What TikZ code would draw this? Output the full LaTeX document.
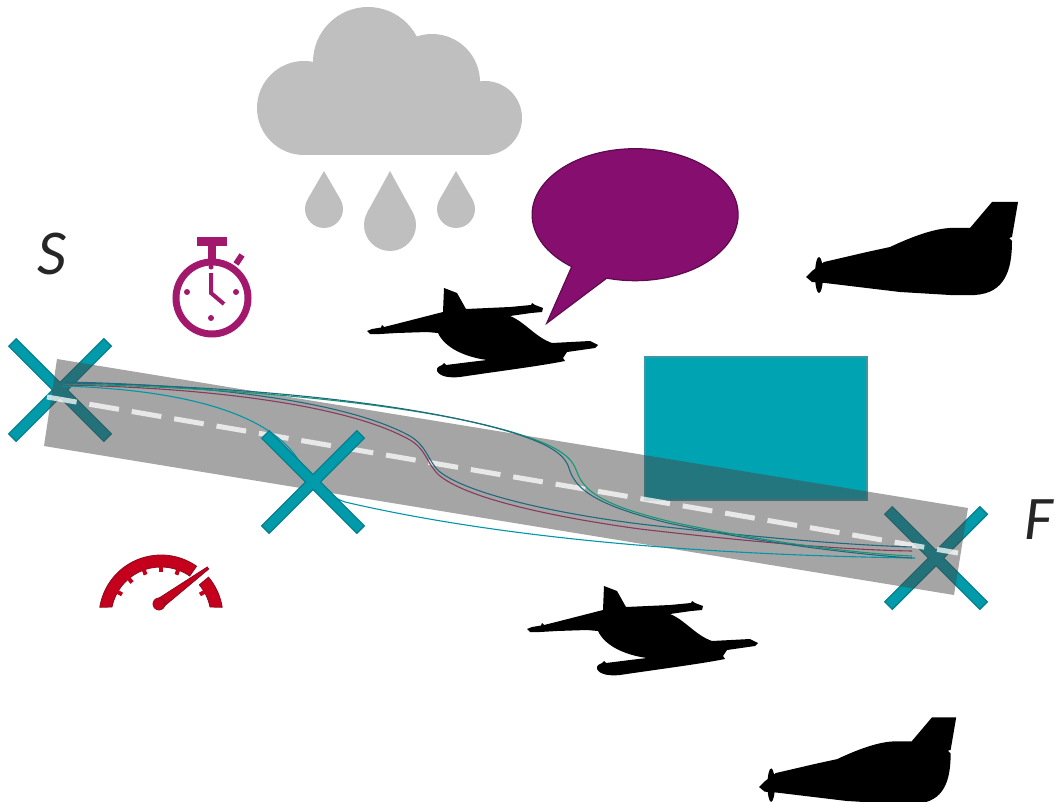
\documentclass[tikz,border=0pt]{standalone}
\usepackage{fontspec}
\setmainfont{Carlito}
\definecolor{xteal}{HTML}{009BAA}
\definecolor{xedge}{HTML}{0A7F8C}
\definecolor{boxteal}{HTML}{00A3B1}
\definecolor{cloudgray}{HTML}{BFBFBF}
\definecolor{bubble}{HTML}{850E6F}
\definecolor{bubbleedge}{HTML}{5E0A4F}
\definecolor{watch}{HTML}{A2186C}
\definecolor{gauge}{HTML}{C4001C}
\definecolor{gaugeedge}{HTML}{8A0A22}
\definecolor{runway}{RGB}{72,72,72}
\definecolor{trkteal}{HTML}{0096A8}
\definecolor{trkdark}{HTML}{22687E}
\definecolor{trkmaroon}{HTML}{8A3A5C}
\definecolor{trkgreen}{HTML}{129A74}
\definecolor{labelgray}{HTML}{262626}
\tikzset{
  track/.style={line width=1.1pt},
  waypoint/.pic={
    \draw[xedge, line width=12pt] (-48,-48) -- (48,48);
    \draw[xedge, line width=12pt] (48,-48) -- (-48,48);
    \draw[xteal, line width=9pt, shorten <=1.5pt, shorten >=1.5pt] (-48,-48) -- (48,48);
    \draw[xteal, line width=9pt, shorten <=1.5pt, shorten >=1.5pt] (48,-48) -- (-48,48);
  },
  % top-down quadcopter-like silhouette
  fighter/.pic={
    \fill[black] (367,331) -- (372,329) -- (381,327.5) -- (382,325) -- (384,327) -- (400,323)
      -- (443,312) -- (444,288) -- (457,293) -- (466,309) -- (510,307) -- (531,305)
      -- (532,303) -- (535,305) -- (543,308) -- (542,312) -- (531,313) -- (510,316)
      .. controls (525,322) and (535,337) .. (552,343) -- (590,341) -- (598,345)
      -- (595,348) -- (567,352) -- (563,358) -- (565,361)
      .. controls (540,366) and (500,371) .. (460,377)
      .. controls (450,378) and (440,377) .. (437,371)
      .. controls (436,367) and (440,366) .. (442,365) -- (444,363) -- (446,365)
      -- (470,362) -- (487,360)
      .. controls (465,357) and (445,348) .. (438,333) -- (427,332) -- (397,333)
      -- (380,334) -- (370,334) -- cycle;
  },
  % side-view aircraft silhouette, origin at the spinner
  sideplane/.pic={
    \fill[black] (-1,0) -- (5,-6) -- (17,-15) -- (60,-25) -- (83,-30)
      .. controls (98,-37) and (123,-48) .. (143,-49) -- (163,-49) -- (185,-75)
      -- (211,-75) -- (205,-40) -- (202,-39) -- (205,-36)
      .. controls (205,-7) and (198,16) .. (168,18) -- (143,18) -- (93,15)
      -- (18,6) -- (5,5) -- cycle;
    \fill[black] (12,-2) ellipse [x radius=4, y radius=18];
  }
}
\begin{document}
\begin{tikzpicture}[x=1pt,y=-1pt]
\useasboundingbox (0,0) rectangle (1059,802);

% rain cloud
\fill[cloudgray] (304,108) circle (47pt);
\fill[cloudgray] (368,62) circle (55pt);
\fill[cloudgray] (432,82) circle (48pt);
\fill[cloudgray] (485,118) circle (37pt);
\fill[cloudgray] (304,100) rectangle (485,155);
% drops
\fill[cloudgray] (324,171) -- (340.5,199.5) -- (307.5,199.5) -- cycle;
\fill[cloudgray] (324,209) circle (19pt);
\fill[cloudgray] (390,171) -- (412.8,212.5) -- (367.2,212.5) -- cycle;
\fill[cloudgray] (390,225) circle (26pt);
\fill[cloudgray] (456,171) -- (472.5,199.5) -- (439.5,199.5) -- cycle;
\fill[cloudgray] (456,209) circle (19pt);

% speech bubble
\filldraw[fill=bubble, draw=bubbleedge, line width=1.2pt]
  (546.7,323.3) -- (571.7,266.7) arc[start angle=128, end angle=466, x radius=103, y radius=66] -- cycle;

% stopwatch
\draw[watch, line width=7pt] (212,298) circle (36pt);
\fill[watch] (197,237) rectangle (227,246);
\fill[watch] (208,245) rectangle (216,260);
\draw[watch, line width=6pt] (236,264) -- (242,255);
\draw[watch, line width=4pt] (211,273) -- (211,293) -- (224,304);
\fill[watch] (211,267) circle (2.5pt);
\fill[watch] (187,292) circle (3pt);
\fill[watch] (236,292) circle (3pt);
\fill[watch] (211,318) circle (3pt);

% speedometer
\filldraw[fill=gauge, draw=gaugeedge, line width=0.8pt]
  (161,617) ++(-55:62) arc[start angle=-55, end angle=-171, radius=62]
  -- (112,607) arc[start angle=-168.5, end angle=-55, radius=50] -- cycle;
\filldraw[fill=gauge, draw=gaugeedge, line width=0.8pt]
  (161,617) ++(-40:62) arc[start angle=-40, end angle=-9, radius=62]
  -- (210,607) arc[start angle=-11.5, end angle=-40, radius=50] -- cycle;
\foreach \a in {150,130,110,90,70,30}
  \draw[gauge, line width=4pt] (161,617) ++(-\a:51) -- ++(-\a-180:6);
\filldraw[fill=gauge, draw=gaugeedge, line width=0.8pt]
  (208.7,569) -- (207.3,567) -- (156,600) -- (162,608) -- cycle;
\filldraw[fill=gauge, draw=gaugeedge, line width=0.8pt] (159,604) circle (6pt);

% aircraft
\pic (q1) at (0,0) {fighter};
\pic (q2) at (160,298) {fighter};
\pic (a1) at (807,277) {sideplane};
\pic[scale=0.93] (a2) at (760,787) {sideplane};

% obstacle, start and finish marks below the runway
\filldraw[fill=boxteal, draw=xedge!80, line width=1.5pt] (645,357) rectangle (867,500);
\pic (xs) at (60,390) {waypoint};
\pic (xf) at (936,558) {waypoint};

% runway
\fill[runway, opacity=0.49] (57,359) -- (968,508) -- (954,595) -- (44,446) -- cycle;
\draw[white, opacity=0.75, line width=5pt, dash pattern=on 30pt off 13pt] (47,397) -- (958,553);

% flight tracks
\draw[track, trkteal] (63,386) .. controls (190,390) and (265,415) .. (295,455)
  .. controls (312,480) and (325,495) .. (345,502)
  .. controls (500,538) and (700,555) .. (915,558);
\draw[track, trkdark] (65,382) .. controls (220,385) and (350,403) .. (410,436)
  .. controls (428,447) and (428,462) .. (440,472)
  .. controls (470,495) and (560,514) .. (640,524)
  .. controls (760,538) and (850,545) .. (912,547);
\draw[track, trkmaroon] (65,385) .. controls (220,388) and (352,407) .. (410,440)
  .. controls (427,450) and (427,465) .. (440,476)
  .. controls (470,500) and (560,518) .. (640,529)
  .. controls (760,543) and (850,550) .. (912,551);
\draw[track, trkgreen] (65,384) .. controls (250,388) and (420,405) .. (512,432)
  .. controls (562,447) and (572,458) .. (577,472)
  .. controls (584,492) and (605,506) .. (672,522)
  .. controls (760,541) and (850,553) .. (912,556);
\draw[track, trkdark] (65,383) .. controls (250,386) and (415,404) .. (507,431)
  .. controls (557,446) and (566,457) .. (570,471)
  .. controls (577,491) and (600,506) .. (668,523)
  .. controls (758,542) and (850,554) .. (912,558);

% intermediate mark above the runway
\pic (xm) at (313,482) {waypoint};

% labels
\node[font=\itshape\fontsize{64}{64}\selectfont, text=labelgray, inner sep=0pt] (S) at (52,254) {S};
\node[font=\itshape\fontsize{62}{62}\selectfont, text=labelgray, inner sep=0pt, anchor=west] (F) at (1024,520) {F};
\end{tikzpicture}
\end{document}
